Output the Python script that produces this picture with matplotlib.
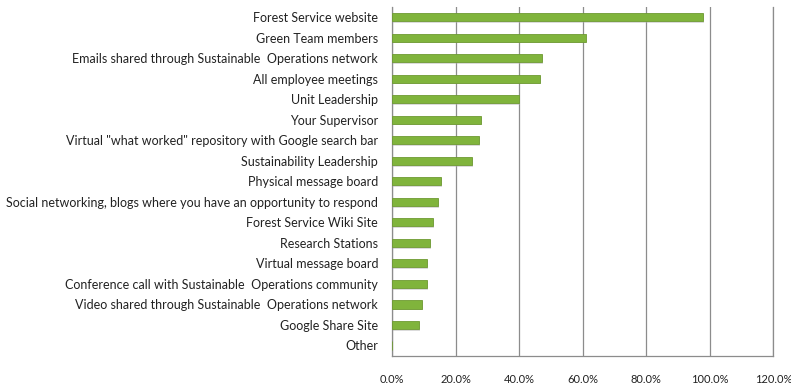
import numpy as np
import matplotlib.pyplot as plt
from matplotlib.ticker import PercentFormatter

# Survey answers, top to bottom as in the chart
categories = [
    'Forest Service website',
    'Green Team members',
    'Emails shared through Sustainable  Operations network',
    'All employee meetings',
    'Unit Leadership',
    'Your Supervisor',
    'Virtual "what worked" repository with Google search bar',
    'Sustainability Leadership',
    'Physical message board',
    'Social networking, blogs where you have an opportunity to respond',
    'Forest Service Wiki Site',
    'Research Stations',
    'Virtual message board',
    'Conference call with Sustainable  Operations community',
    'Video shared through Sustainable  Operations network',
    'Google Share Site',
    'Other',
]
values = [97.9, 60.9, 47.3, 46.6, 40.0, 27.9, 27.3, 25.3, 15.4, 14.4,
          12.8, 12.0, 10.9, 10.9, 9.3, 8.4, 0.0]
xticks = [0, 20, 40, 60, 80, 100, 120]

plt.rcParams['font.family'] = ['Lato', 'DejaVu Sans']

fig = plt.figure(figsize=(7.91, 3.85), dpi=100)
ax = fig.add_axes([0.4956, 0.0761, 0.482, 0.906])

y = np.arange(len(categories))
# soft shadow under each bar, then the bar itself
ax.barh(y + 0.07, values, height=0.42, left=0.3, color='#b0b0b0', alpha=0.45, zorder=2)
ax.barh(y, values, height=0.4, color='#80b43c', edgecolor='#6e9a32', linewidth=0.6, zorder=3)

ax.set_yticks(y)
ax.set_yticklabels(categories, fontsize=9, color='#222222')
ax.set_ylim(len(categories) - 0.5, -0.5)

ax.set_xlim(0, 120)
ax.set_xticks(xticks)
ax.xaxis.set_major_formatter(PercentFormatter(decimals=1))
ax.tick_params(axis='x', length=0, pad=13, labelsize=8, labelcolor='#222222')
ax.tick_params(axis='y', length=0, pad=10)

ax.grid(axis='x', color='#8c8c8c', linewidth=0.9, zorder=0)
ax.set_axisbelow(True)
ax.spines['top'].set_visible(False)
for s in ['left', 'bottom', 'right']:
    ax.spines[s].set_color('#8c8c8c')
    ax.spines[s].set_linewidth(0.9)

fig.savefig('out.png', dpi=100)
